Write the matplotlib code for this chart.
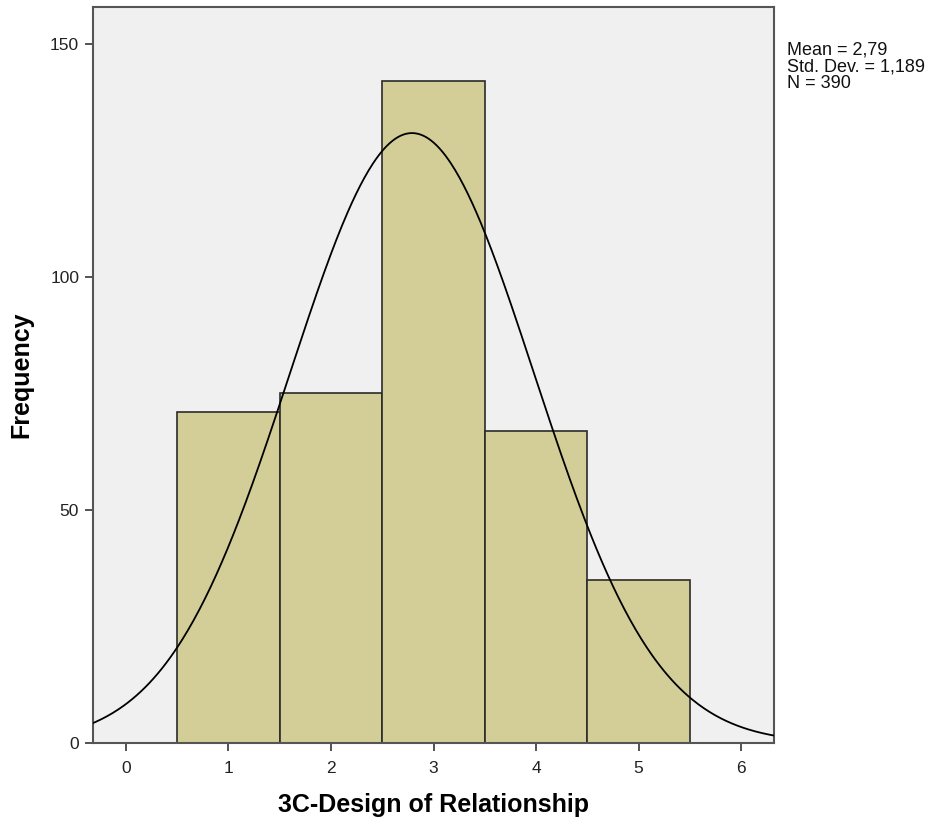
import numpy as np
import matplotlib
matplotlib.use("Agg")
import matplotlib.pyplot as plt

# Histogram data: scores 1..5 and their frequencies
scores = [1, 2, 3, 4, 5]
counts = [71, 75, 142, 67, 35]
mean_val = 2.79
sd_val = 1.189
n_total = 390

x_ticks = [0, 1, 2, 3, 4, 5, 6]
y_ticks = [0, 50, 100, 150]

plt.rcParams['font.family'] = ['Liberation Sans', 'DejaVu Sans']

fig = plt.figure(figsize=(9.33, 8.25), dpi=100)
ax = fig.add_axes([0.0997, 0.0994, 0.7299, 0.8921])
ax.set_facecolor('#F0F0F0')

ax.bar(scores, counts, width=1.0, color='#D3CE97', edgecolor='#2b2b2b',
       linewidth=1.2, zorder=2)

# Normal curve scaled to counts (bin width 1)
xs = np.linspace(-0.4, 6.4, 500)
ys = n_total * 1.0 / (sd_val * np.sqrt(2 * np.pi)) * np.exp(-0.5 * ((xs - mean_val) / sd_val) ** 2)
ax.plot(xs, ys, color='black', linewidth=1.3, zorder=3)

ax.set_xlim(-0.32, 6.32)
ax.set_ylim(0, 157.9)
ax.set_xticks(x_ticks)
ax.set_yticks(y_ticks)
ax.tick_params(direction='out', length=6, width=1.3, color='#444444',
               labelsize=12.5, labelcolor='#222222', pad=4)
ax.tick_params(axis='x', pad=7)

for side in ['left', 'bottom', 'top', 'right']:
    ax.spines[side].set_color('#555555')
    ax.spines[side].set_linewidth(1.5)

ax.set_xlabel('3C-Design of Relationship', fontsize=18, fontweight='bold', labelpad=12)
ax.set_ylabel('Frequency', fontsize=18, fontweight='bold', labelpad=12)

fig.text(0.843, 0.950, f'Mean = 2,79\nStd. Dev. = 1,189\nN = {n_total}',
         fontsize=13, va='top', ha='left', linespacing=1.0, color='#111111')

fig.savefig('out.png', dpi=100, facecolor='white')
